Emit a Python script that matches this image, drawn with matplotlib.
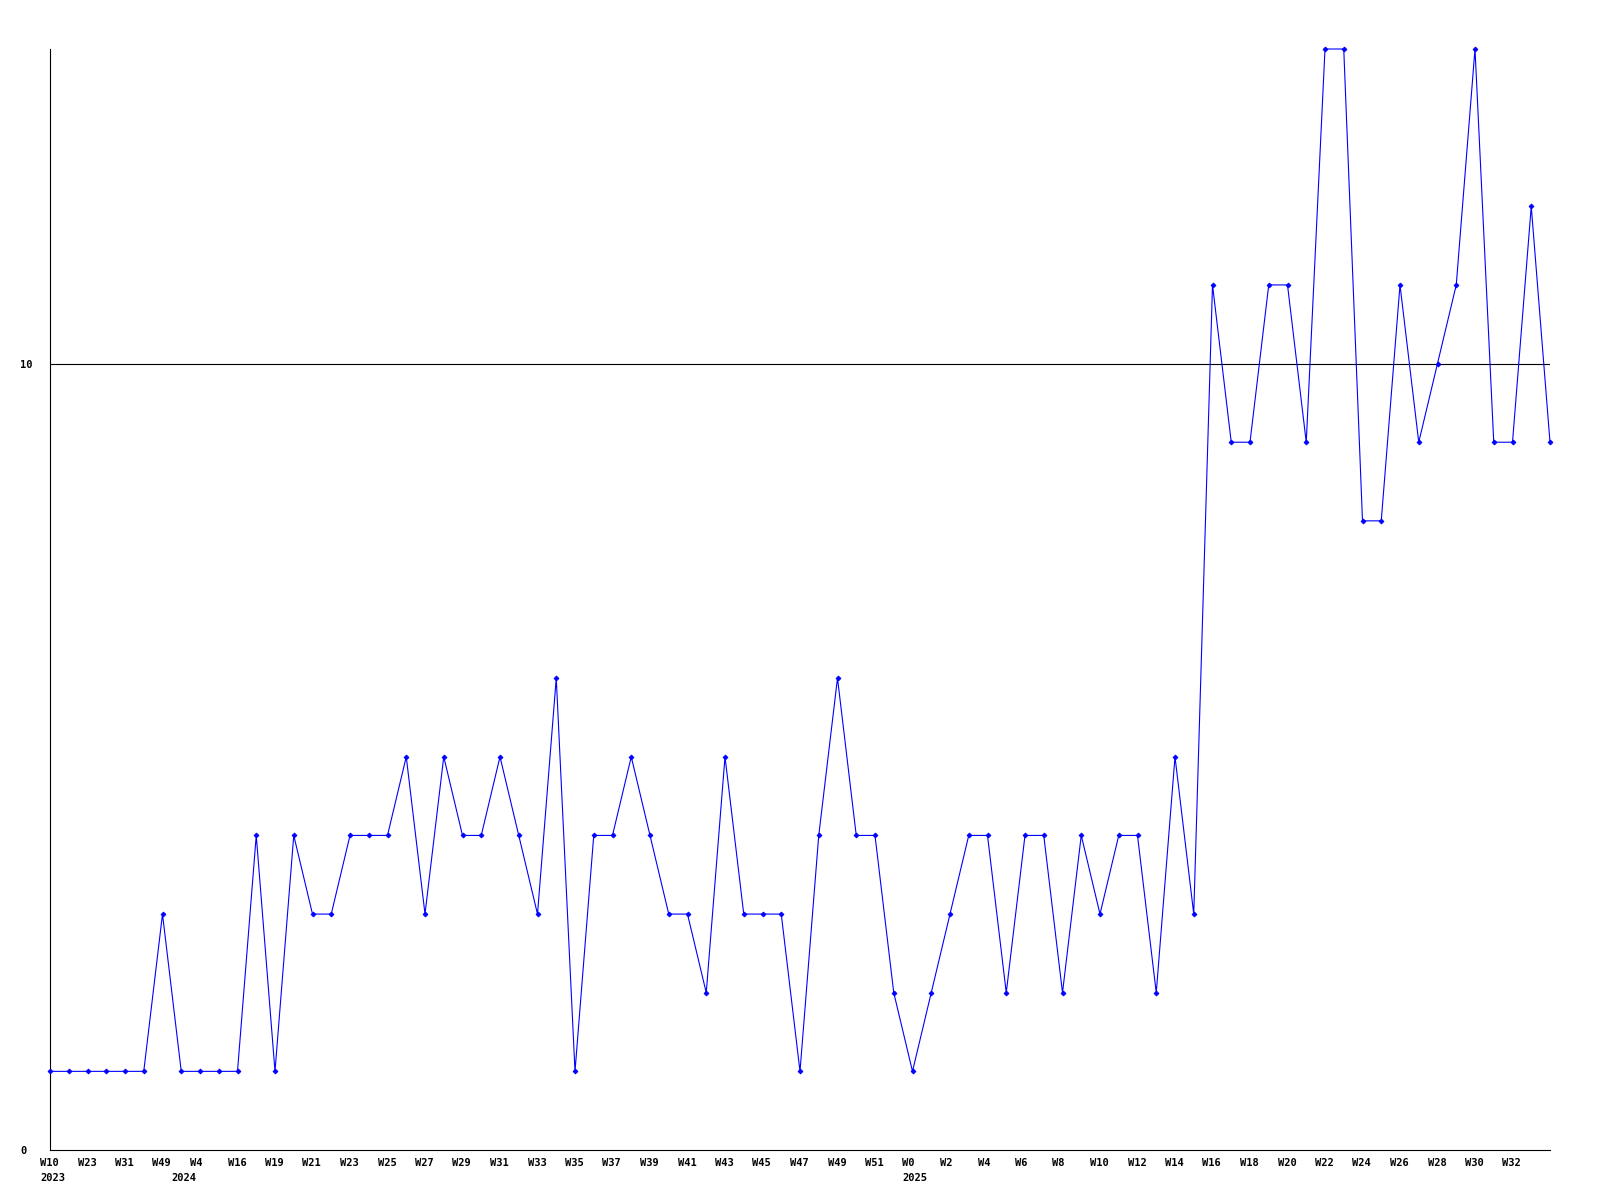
import matplotlib
matplotlib.use("Agg")
import matplotlib.pyplot as plt
import matplotlib.transforms as mtransforms

values = [1, 1, 1, 1, 1, 1, 3, 1, 1, 1,
          1, 4, 1, 4, 3, 3, 4, 4, 4, 5,
          3, 5, 4, 4, 5, 4, 3, 6, 1, 4,
          4, 5, 4, 3, 3, 2, 5, 3, 3, 3,
          1, 4, 6, 4, 4, 2, 1, 2, 3, 4,
          4, 2, 4, 4, 2, 4, 3, 4, 4, 2,
          5, 3, 11, 9, 9, 11, 11, 9, 14, 14,
          8, 8, 11, 9, 10, 11, 14, 9, 9, 12, 9]

week_labels = ["W10", "W23", "W31", "W49", "W4", "W16", "W19", "W21", "W23", "W25",
               "W27", "W29", "W31", "W33", "W35", "W37", "W39", "W41", "W43", "W45",
               "W47", "W49", "W51", "W0", "W2", "W4", "W6", "W8", "W10", "W12",
               "W14", "W16", "W18", "W20", "W22", "W24", "W26", "W28", "W30", "W32"]
year_labels = ["2023", "2024", "2025"]
year_index = [0, 7, 46]
y_ticks = [0, 10]

fig = plt.figure(figsize=(16, 12), dpi=100)
ax = fig.add_axes([50/1600, 1 - 1150/1200, 1500/1600, 1101/1200])

x = list(range(len(values)))
ax.plot(x, values, color="#0000ff", linewidth=0.8, marker="D", markersize=2.5,
        markeredgewidth=0.6, clip_on=False, zorder=3)

ax.set_xlim(0, len(values) - 1)
ax.set_ylim(0, 14)

ax.axhline(10, color="black", linewidth=0.8, zorder=1)

for s in ["top", "right"]:
    ax.spines[s].set_visible(False)
ax.spines["left"].set_linewidth(0.8)
ax.spines["bottom"].set_linewidth(0.8)

font = dict(family="DejaVu Sans Mono", weight="bold", size=7.5)

ax.set_yticks(y_ticks)
ax.set_yticklabels([str(v) for v in y_ticks], **font)
ax.tick_params(axis="y", length=0, pad=0)
yoff = mtransforms.ScaledTranslation(-30/100, 0, fig.dpi_scale_trans)
for lab in ax.get_yticklabels():
    lab.set_horizontalalignment("left")
    lab.set_transform(lab.get_transform() + yoff)

tick_pos = list(range(0, len(values), 2))[:len(week_labels)]
ax.set_xticks(tick_pos)
ax.set_xticklabels(week_labels, **font)
ax.tick_params(axis="x", length=0, pad=6)
offset = mtransforms.ScaledTranslation(-10/100, 0, fig.dpi_scale_trans)
for lab in ax.get_xticklabels():
    lab.set_horizontalalignment("left")
    lab.set_transform(lab.get_transform() + offset)

trans = mtransforms.blended_transform_factory(ax.transData, ax.transAxes) + offset
for yl, xi in zip(year_labels, year_index):
    ax.text(xi, -0.0205, yl, transform=trans, ha="left", va="top", **font)

fig.savefig("out.png", dpi=100, facecolor="white")
